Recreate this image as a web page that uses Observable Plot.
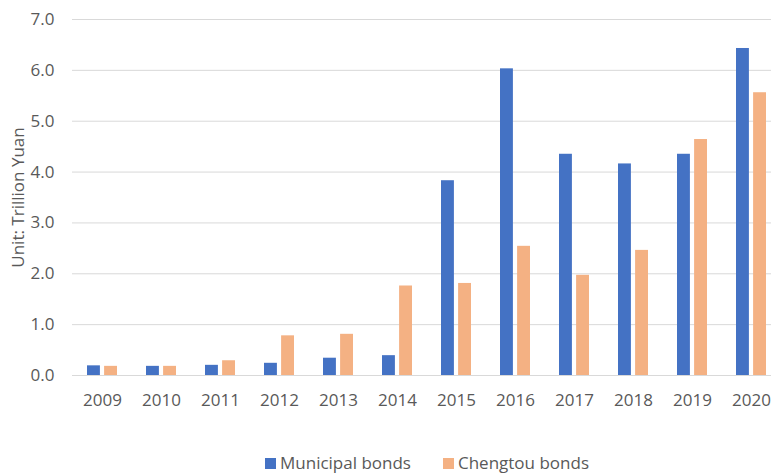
<!DOCTYPE html>
<html>
<head>
<meta charset="utf-8">
<script src="https://cdn.jsdelivr.net/npm/d3@7"></script>
<script src="https://cdn.jsdelivr.net/npm/@observablehq/plot@0.6"></script>
<style>
  html, body { margin: 0; padding: 0; background: #fff; }
  #chart { width: 771px; font-family: "Open Sans", sans-serif; }
  .legend { display: flex; justify-content: center; align-items: baseline; padding-left: 83px; margin-top: 31px;
            font-size: 17px; line-height: 23px; color: #595959; }
  .legend .item { display: flex; align-items: baseline; }
  .legend .item + .item { margin-left: 32px; }
  .legend .sw { display: inline-block; width: 11px; height: 11px; margin-right: 4px; }
</style>
</head>
<body>
<div id="chart"></div>
<script>
const years = ["2009","2010","2011","2012","2013","2014","2015","2016","2017","2018","2019","2020"];
const municipal = [0.19, 0.18, 0.20, 0.24, 0.34, 0.39, 3.83, 6.03, 4.35, 4.16, 4.35, 6.43];
const chengtou  = [0.18, 0.18, 0.29, 0.78, 0.81, 1.76, 1.81, 2.54, 1.97, 2.46, 4.64, 5.56];
const seriesNames = ["Municipal bonds", "Chengtou bonds"];
const seriesColors = ["#4472C4", "#F4B183"];
const yTicks = [0, 1, 2, 3, 4, 5, 6, 7];
const yLabel = "Unit: Trillion Yuan";

const muniRows = years.map((y, i) => ({year: y, series: seriesNames[0], value: municipal[i]}));
const chengRows = years.map((y, i) => ({year: y, series: seriesNames[1], value: chengtou[i]}));

const plot = Plot.plot({
  width: 771,
  height: 420,
  marginLeft: 72,
  marginRight: -10,
  marginTop: 19,
  marginBottom: 45,
  style: {fontFamily: "'Open Sans', sans-serif", fontSize: "17px", color: "#595959", background: "white"},
  x: {domain: years, paddingInner: 0.49, paddingOuter: 0.245, tickSize: 0, tickPadding: 18, label: null},
  y: {domain: [0, 7], ticks: yTicks, tickFormat: d3.format(".1f"), tickSize: 0, tickPadding: 18,
      label: yLabel, labelAnchor: "center", labelArrow: "none", labelOffset: 61},
  color: {domain: seriesNames, range: seriesColors},
  marks: [
    Plot.ruleY(yTicks, {stroke: "#d9d9d9", strokeWidth: 1}),
    Plot.barY(muniRows, {x: "year", y: "value", fill: "series", insetRight: 17.1}),
    Plot.barY(chengRows, {x: "year", y: "value", fill: "series", insetLeft: 17.1})
  ]
});

const chart = document.getElementById("chart");
chart.appendChild(plot);

const legend = document.createElement("div");
legend.className = "legend";
seriesNames.forEach((name, i) => {
  const item = document.createElement("span");
  item.className = "item";
  const sw = document.createElement("span");
  sw.className = "sw";
  sw.style.background = seriesColors[i];
  item.appendChild(sw);
  item.appendChild(document.createTextNode(name));
  legend.appendChild(item);
});
chart.appendChild(legend);
</script>
</body>
</html>
